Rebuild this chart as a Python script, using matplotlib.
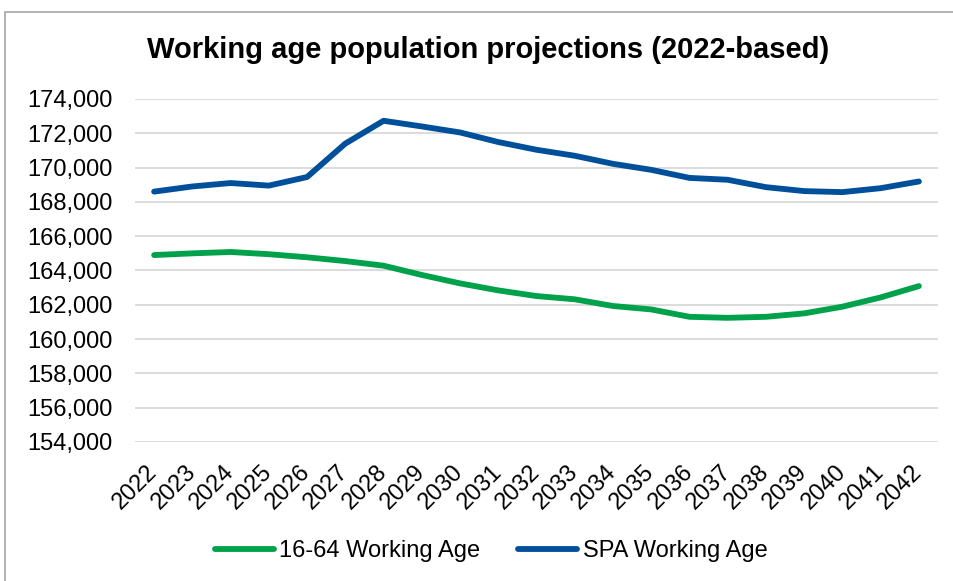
import matplotlib.pyplot as plt
from matplotlib.patches import Rectangle
from matplotlib.ticker import FuncFormatter

plt.rcParams['font.family'] = ['Liberation Sans', 'DejaVu Sans']

years = [str(y) for y in range(2022, 2043)]
working_16_64 = [164900, 165000, 165080, 164950, 164770, 164550, 164280, 163740,
                 163250, 162840, 162510, 162320, 161930, 161730, 161300, 161240,
                 161300, 161500, 161890, 162430, 163090]
working_spa = [168600, 168900, 169100, 168950, 169450, 171400, 172730, 172400,
               172050, 171490, 171040, 170690, 170220, 169870, 169400, 169290,
               168860, 168630, 168570, 168800, 169190]

fig = plt.figure(figsize=(9.54, 5.81), dpi=100)
# chart area border (right and bottom edges fall outside the image)
fig.patches.append(Rectangle((5 / 954, -0.02), 1, 1 - 12 / 581 + 0.02, transform=fig.transFigure,
                             fill=False, edgecolor='#A6A6A6', linewidth=1.2))

ax = fig.add_axes([135 / 954, 1 - 442 / 581, (938 - 135) / 954, (442 - 99) / 581])
x = range(len(years))
ax.plot(x, working_16_64, color='#00A14B', linewidth=4.2, label='16-64 Working Age',
        solid_capstyle='round')
ax.plot(x, working_spa, color='#004F9A', linewidth=4.2, label='SPA Working Age',
        solid_capstyle='round')

ax.set_ylim(154000, 174000)
ax.set_yticks(range(154000, 174001, 2000))
ax.yaxis.set_major_formatter(FuncFormatter(lambda v, p: f'{int(v):,}'))
ax.set_xlim(-0.5, len(years) - 0.5)
ax.set_xticks(list(x))
ax.set_xticklabels(years, rotation=45, ha='right', va='center', rotation_mode='anchor')
ax.tick_params(axis='both', length=0, labelsize=17)
ax.tick_params(axis='y', pad=16)
ax.tick_params(axis='x', pad=19)
ax.grid(axis='y', color='#D9D9D9', linewidth=1.3)
ax.set_axisbelow(True)
for s in ax.spines.values():
    s.set_visible(False)

fig.text(0.512, 1 - 50 / 581, 'Working age population projections (2022-based)',
         ha='center', va='center', fontsize=21, fontweight='bold')

fig.legend(loc='center', bbox_to_anchor=(0.515, 1 - 551 / 581), ncol=2, frameon=False,
           fontsize=17, handlelength=2.5, handletextpad=0.25, columnspacing=1.6)

fig.savefig('out.png', dpi=100)
